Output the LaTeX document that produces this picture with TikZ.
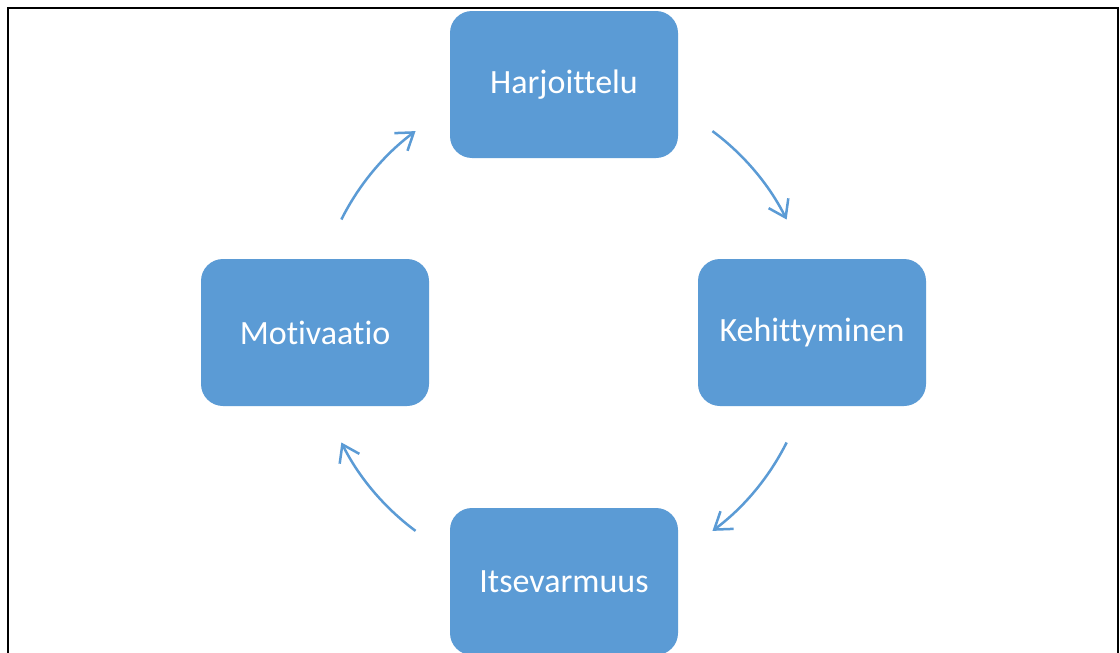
\documentclass[tikz,border=0pt]{standalone}
\usepackage{fontspec}
\setmainfont[Ligatures=NoCommon]{Carlito}
\usetikzlibrary{arrows.meta}
\definecolor{boxblue}{HTML}{5B9BD5}
\begin{document}
\begin{tikzpicture}[x=1pt,y=1pt,
  cyclebox/.style={draw=none,fill=boxblue,rounded corners=22pt,minimum width=228pt,minimum height=147pt,inner sep=0pt,text=white,font=\fontsize{34}{40}\selectfont},
  cyclearrow/.style={draw=boxblue,line width=2.5pt,-{Straight Barb[length=16pt,width=22pt,line width=2.5pt]}}]
\useasboundingbox (0,0) rectangle (1120,-653);
\clip (0,0) rectangle (1120,-653);
\fill[white] (0,0) rectangle (1120,-653);
\draw[line width=2pt] (8,-700) -- (8,-8) -- (1118,-8) -- (1118,-700);
\coordinate (c) at (564,-331);
\node[cyclebox] (h) at (564,-84.5) {Harjoittelu};
\node[cyclebox] (k) at (812,-332.5) {Kehittyminen};
\node[cyclebox] (i) at (564,-581.5) {Itsevarmuus};
\node[cyclebox] (m) at (315,-332.5) {Motivaatio};
\draw[cyclearrow] ([shift={(153.4:249)}]c) arc[start angle=153.4,end angle=126.6,radius=249];
\draw[cyclearrow] ([shift={(53.4:249)}]c) arc[start angle=53.4,end angle=26.6,radius=249];
\draw[cyclearrow] ([shift={(-26.6:249)}]c) arc[start angle=-26.6,end angle=-53.4,radius=249];
\draw[cyclearrow] ([shift={(-126.6:249)}]c) arc[start angle=-126.6,end angle=-153.4,radius=249];
\end{tikzpicture}
\end{document}
